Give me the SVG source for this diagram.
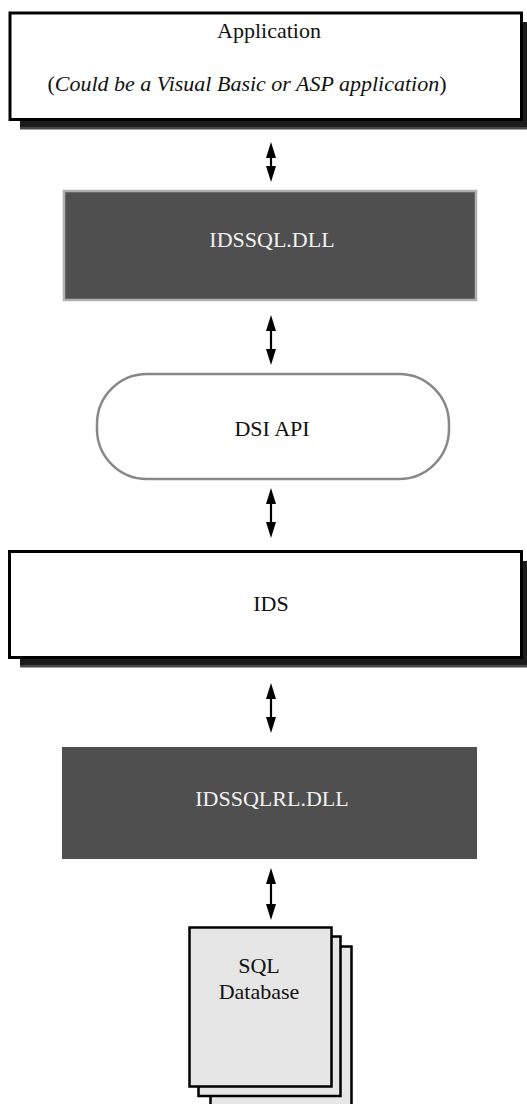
<svg xmlns="http://www.w3.org/2000/svg" width="527" height="1104" viewBox="0 0 527 1104">
<style>
  text { font-family: 'Liberation Serif', 'DejaVu Serif', serif; font-size: 22px; text-anchor: middle; fill: #111; }
  .w { fill: #f2f2f2; }
  .box { fill: #ffffff; stroke: #000; stroke-width: 3; }
  .shadow { fill: #1c1c1c; }
  .shadowEdge { fill: #474747; }
  .dark { fill: #4f4f4f; }
  .page { fill: #e6e6e6; stroke: #000; stroke-width: 2.5; }
  .conn { stroke: #000; stroke-width: 2.2; fill: none; marker-start: url(#head); marker-end: url(#head); }
</style>
<defs>
  <marker id="head" markerUnits="userSpaceOnUse" markerWidth="18" markerHeight="12" refX="9" refY="5.5" orient="auto-start-reverse" viewBox="0 0 18 11">
    <path d="M0,0.5 L16,5.5 L0,10.5 z" fill="#000"/>
  </marker>
</defs>
<rect width="527" height="1104" fill="#ffffff"/>

<g id="application">
  <rect class="shadow" x="20" y="22" width="510" height="105"/>
  <rect class="shadowEdge" x="20" y="127" width="510" height="2.5"/>
  <rect class="box" x="10" y="13" width="511.5" height="106.5"/>
  <text x="269" y="38" font-family="Liberation Serif, serif">Application</text>
  <text x="247" y="91" font-size="21.5" font-family="Liberation Serif, serif">(<tspan font-style="italic">Could be a Visual Basic or ASP application</tspan>)</text>
</g>

<g id="idssql">
  <rect x="64" y="191" width="412" height="109" fill="#4f4f4f" stroke="#b0b0b0" stroke-width="2.5"/>
  <text class="w" x="272" y="247" font-family="Liberation Serif, serif">IDSSQL.DLL</text>
</g>

<g id="dsiapi">
  <rect x="97" y="374" width="352" height="105" rx="50" ry="50" fill="#ffffff" stroke="#888" stroke-width="2.5"/>
  <text x="272" y="436" font-family="Liberation Serif, serif">DSI API</text>
</g>

<g id="ids">
  <rect class="shadow" x="20" y="561" width="510" height="104"/>
  <rect class="shadowEdge" x="20" y="665" width="510" height="2.5"/>
  <rect class="box" x="9.5" y="551.5" width="512" height="106"/>
  <text x="271" y="611" font-family="Liberation Serif, serif">IDS</text>
</g>

<g id="idssqlrl">
  <rect class="dark" x="62" y="747" width="415" height="112"/>
  <text class="w" x="272" y="806" font-family="Liberation Serif, serif">IDSSQLRL.DLL</text>
</g>

<g id="database">
  <rect class="page" x="210.5" y="946.5" width="141" height="200"/>
  <rect class="page" x="198.5" y="936.5" width="142" height="159.5"/>
  <rect class="page" x="189.5" y="927.5" width="142" height="159"/>
  <text x="259" y="973" font-family="Liberation Serif, serif">SQL</text>
  <text x="259" y="999" font-family="Liberation Serif, serif">Database</text>
</g>

<g id="connectors">
  <line class="conn" x1="271" y1="149" x2="271" y2="175"/>
  <line class="conn" x1="271" y1="322" x2="271" y2="358"/>
  <line class="conn" x1="271" y1="495" x2="271" y2="531"/>
  <line class="conn" x1="271" y1="690" x2="271" y2="726"/>
  <line class="conn" x1="271" y1="875" x2="271" y2="913"/>
</g>
</svg>
